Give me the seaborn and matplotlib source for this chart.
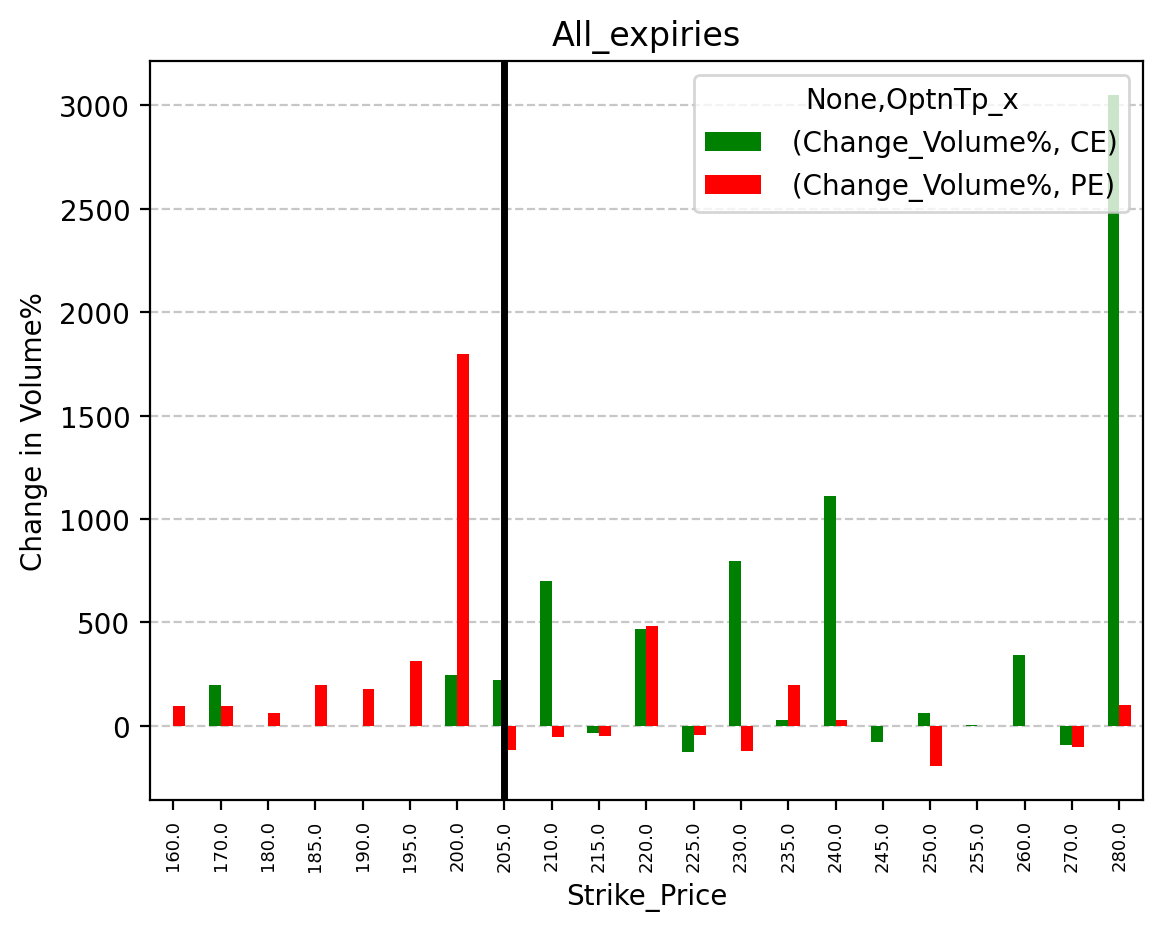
import pandas as pd
import numpy as np
import seaborn as sns
import matplotlib.pyplot as plt

# strikes and % change in volume
strikes = ["160.0", "170.0", "180.0", "185.0", "190.0", "195.0", "200.0", "205.0",
           "210.0", "215.0", "220.0", "225.0", "230.0", "235.0", "240.0", "245.0",
           "250.0", "255.0", "260.0", "270.0", "280.0"]
ce_change = [0, 200, 0, 0, 0, 0, 248, 222, 700, -35, 470, -127, 795, 30, 1110, -78,
             63, 4, 345, -92, 3050]
pe_change = [97, 98, 63, 200, 180, 315, 1795, -116, -53, -49, 485, -44, -121, 200, 30, 0,
             -195, 0, 0, -102, 100]
series_labels = [" (Change_Volume%, CE)", " (Change_Volume%, PE)"]
spot_strike = "205.0"

df = pd.DataFrame({
    "Strike_Price": strikes * 2,
    "value": ce_change + pe_change,
    "series": [series_labels[0]] * len(strikes) + [series_labels[1]] * len(strikes),
})

fig, ax = plt.subplots(figsize=(5.805, 4.64), dpi=200)
sns.barplot(data=df, x="Strike_Price", y="value", hue="series", order=strikes,
            palette=["green", "red"], width=0.5, saturation=1, ax=ax, zorder=2)

ax.axvline(strikes.index(spot_strike), color="black", linewidth=2.5, zorder=3)
ax.grid(axis="y", linestyle="--", alpha=0.7, zorder=0)
ax.set_axisbelow(True)
ax.set_xlim(-0.5, len(strikes) - 0.5)

ax.set_title("All_expiries")
ax.set_xlabel("Strike_Price")
ax.set_ylabel("Change in Volume%")
ax.tick_params(axis="x", labelrotation=90, labelsize=6.5)
ax.legend(title="None,OptnTp_x", loc="upper right")

fig.subplots_adjust(left=0.129, right=0.9845, top=0.933, bottom=0.137)
plt.savefig("out.png", dpi=200)
